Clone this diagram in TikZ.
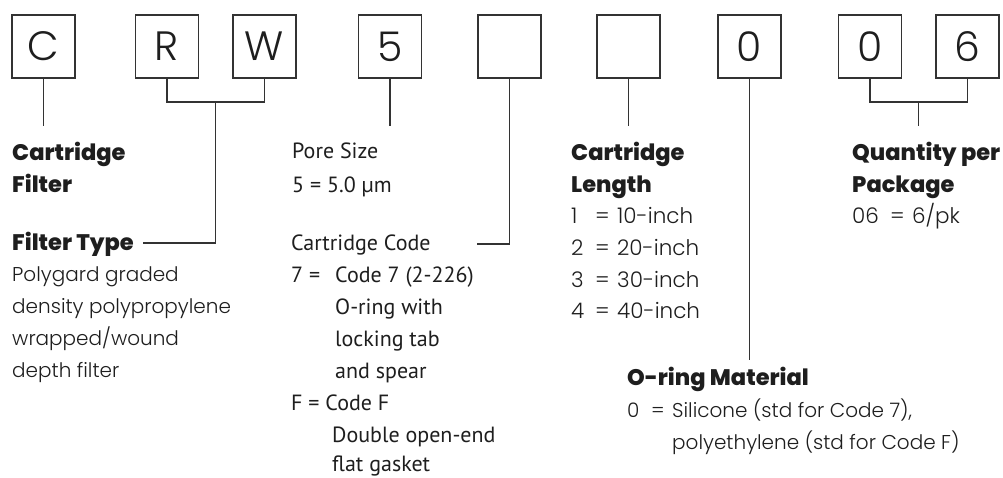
\documentclass[tikz,border=0pt]{standalone}
\usepackage{fontspec}
\IfFontExistsTF{Poppins Light}
  {\newfontfamily\geolight{Poppins Light}}
  {\newfontfamily\geolight{Poppins}}
\IfFontExistsTF{Poppins ExtraBold}
  {\newfontfamily\geoheavy{Poppins ExtraBold}}
  {\newfontfamily\geoheavy{Poppins}[UprightFeatures={FakeBold=1.5}]}
\newfontfamily\humanist{PT Sans}
\definecolor{linegray}{HTML}{333333}
\definecolor{ink}{HTML}{1E1E1E}
% code = value rows with aligned columns
\newcommand{\coderow}[4]{\makebox[#1][l]{#2}\makebox[22pt][l]{=}#3#4}
\tikzset{
  codebox/.style={draw=linegray, line width=1.2pt, minimum size=63pt, inner sep=0pt,
    text=ink, font=\geolight\fontsize{41}{41}\selectfont},
  head/.style={anchor=base west, inner sep=0pt, text=ink,
    font=\geoheavy\fontsize{22.5}{22.5}\selectfont},
  desc/.style={anchor=base west, inner sep=0pt, text=ink,
    font=\geolight\fontsize{20}{20}\selectfont},
  value/.style={anchor=base west, inner sep=0pt, text=ink,
    font=\geolight\fontsize{21.5}{21.5}\selectfont},
  plain/.style={anchor=base west, inner sep=0pt, text=ink,
    font=\humanist\fontsize{22}{22}\selectfont},
  link/.style={draw=linegray, line width=1.2pt}
}
\begin{document}
\begin{tikzpicture}[x=1pt, y=-1pt]
\useasboundingbox (0,0) rectangle (1003,477);

% code boxes
\node[codebox] (bC)  at (43.5,46.5)  {C};
\node[codebox] (bR)  at (167,46.5)   {R};
\node[codebox] (bW)  at (264.5,46.5) {W};
\node[codebox] (b5)  at (390,46.5)   {5};
\node[codebox] (bE1) at (509.5,46.5) {};
\node[codebox] (bE2) at (628.5,46.5) {};
\node[codebox] (b0)  at (749.5,46.5) {0};
\node[codebox] (bQ0) at (870,46.5)   {0};
\node[codebox] (bQ6) at (967.5,46.5) {6};

% connector end points
\coordinate (eC)  at (43.5,126);
\coordinate (eRW) at (215.75,102);
\coordinate (eFT) at (143,243);
\coordinate (e5)  at (390,126);
\coordinate (eCC) at (477,244);
\coordinate (eL)  at (628.5,126);
\coordinate (eO)  at (749.5,360);
\coordinate (eQ)  at (918.75,102);

% connectors
\draw[link] (bC.south) -- (eC);
\draw[link] (bR.south) -- (bR.south |- eRW) -- (bW.south |- eRW) -- (bW.south);
\draw[link] (eRW) -- (eRW |- eFT) -- (eFT);
\draw[link] (b5.south) -- (e5);
\draw[link] (bE1.south) -- (bE1.south |- eCC) -- (eCC);
\draw[link] (bE2.south) -- (eL);
\draw[link] (b0.south) -- (eO);
\draw[link] (bQ0.south) -- (bQ0.south |- eQ) -- (bQ6.south |- eQ) -- (bQ6.south);
\draw[link] (eQ) -- (eQ |- 0,126);

% Cartridge filter
\node[head] (cf1) at (12,160) {Cartridge};
\node[head] (cf2) at (12,192) {Filter};

% Filter type
\node[head] (ft0) at (12,250) {Filter Type};
\node[desc] (ft1) at (12,281) {Polygard graded};
\node[desc] (ft2) at (12,313) {density polypropylene};
\node[desc] (ft3) at (12,345) {wrapped/wound};
\node[desc] (ft4) at (12,377) {depth filter};

% Pore size
\node[plain] (ps1) at (292,158) {Pore Size};
\node[plain] (ps2) at (292,192) {5 = 5.0 µm};

% Cartridge code
\node[plain] (cc0) at (291,250) {Cartridge Code};
\node[plain] (cc1) at (291,282) {7 =};
\node[plain] (cc2) at (335,282) {Code 7 (2-226)};
\node[plain] (cc3) at (335,314) {O-ring with};
\node[plain] (cc4) at (335,346) {locking tab};
\node[plain] (cc5) at (335,378) {and spear};
\node[plain] (cc6) at (291,410) {F = Code F};
\node[plain] (cc7) at (332,442) {Double open-end};
\node[plain] (cc8) at (332,471) {flat gasket};

% Cartridge length
\node[head]  (cl1) at (571,160) {Cartridge};
\node[head]  (cl2) at (571,192) {Length};
\node[value] (cl3) at (571,223) {\coderow{24pt}{1}{10}{-inch}};
\node[value] (cl4) at (571,255) {\coderow{24pt}{2}{20}{-inch}};
\node[value] (cl5) at (571,287) {\coderow{24pt}{3}{30}{-inch}};
\node[value] (cl6) at (571,318) {\coderow{24pt}{4}{40}{-inch}};

% Quantity per package
\node[head]  (qp1) at (852,160) {Quantity per};
\node[head]  (qp2) at (852,192) {Package};
\node[value] (qp3) at (852,223) {\coderow{38pt}{06}{6/pk}{}};

% O-ring material
\node[head] (om1) at (627,385) {O-ring Material};
\node[desc] (om2) at (627,417) {\makebox[24pt][l]{0}=};
\node[desc] (om3) at (672,417) {Silicone (std for Code 7),};
\node[desc] (om4) at (672,449) {polyethylene (std for Code F)};
\end{tikzpicture}
\end{document}
